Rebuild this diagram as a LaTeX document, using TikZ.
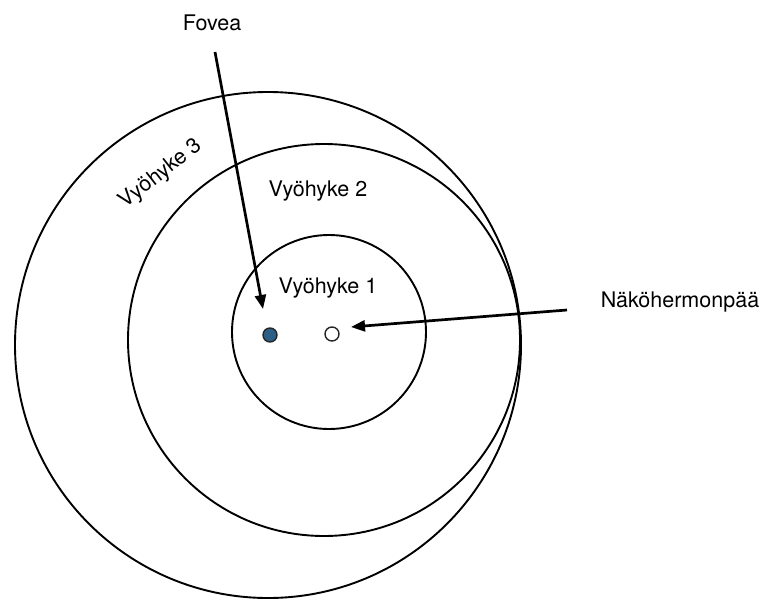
\documentclass[tikz,border=0pt]{standalone}
\usepackage{fontspec}
\setmainfont{TeX Gyre Heros}
\usetikzlibrary{arrows.meta}
\begin{document}
\begin{tikzpicture}[x=1pt,y=-1pt,
  zone/.style={circle,draw=black,line width=1.9pt,inner sep=0pt,outer sep=0pt},
  lbl/.style={inner sep=0pt,font=\fontsize{21.5}{25}\selectfont},
  pointer/.style={line width=2.7pt,-{Triangle[length=14pt,width=11pt]}},
  spot/.style={circle,draw=black!85,line width=1.4pt,inner sep=0pt,minimum size=14pt}]
\useasboundingbox (0,0) rectangle (765,599);
\node[zone,minimum size=506pt] (z3) at (268,345) {};
\node[zone,minimum size=392pt] (z2) at (324,340) {};
\node[zone,minimum size=194pt] (z1) at (329,332) {};
\node[spot,fill={rgb,255:red,44;green,95;blue,135}] (fovea) at (270,335) {};
\node[spot,fill=white] (disc) at (332,334) {};
\node[lbl] (l1) at (328,288) {Vyöhyke 1};
\node[lbl] (l2) at (318,191) {Vyöhyke 2};
\node[lbl,rotate=38] (l3) at (161,174) {Vyöhyke 3};
\node[lbl] (lf) at (212,23) {Fovea};
\node[lbl] (ld) at (680,302) {Näköhermonpää};
\coordinate (fs) at (215,52);
\coordinate (ft) at (263,309);
\coordinate (ds) at (567,310);
\coordinate (dt) at (351,327);
\draw[pointer] (fs) -- (ft);
\draw[pointer] (ds) -- (dt);
\end{tikzpicture}
\end{document}
